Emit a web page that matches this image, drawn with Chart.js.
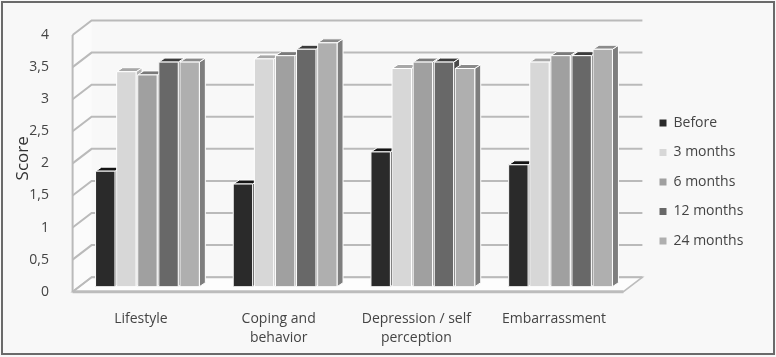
<!DOCTYPE html>
<html><head><meta charset="utf-8">
<script src="https://cdn.jsdelivr.net/npm/chart.js@4.4.1/dist/chart.umd.min.js"></script>
<style>html,body{margin:0;padding:0;background:#fff}#wrap{width:776px;height:357px}</style>
</head><body><div id="wrap"><canvas id="c" width="776" height="357"></canvas></div>
<script>
// ---- data ----
const categories = [['Lifestyle'], ['Coping and', 'behavior'], ['Depression / self', 'perception'], ['Embarrassment']];
const seriesNames = ['Before', '3 months', '6 months', '12 months', '24 months'];
const before   = [1.8, 1.6, 2.1, 1.9];
const months3  = [3.35, 3.55, 3.4, 3.5];
const months6  = [3.3, 3.6, 3.5, 3.6];
const months12 = [3.5, 3.7, 3.5, 3.6];
const months24 = [3.5, 3.8, 3.4, 3.7];
const yTickLabels = ['0', '0,5', '1', '1,5', '2', '2,5', '3', '3,5', '4'];
const axisTitle = 'Score';

// ---- styles ----
const frontColors = ['#2a2a2a', '#d7d7d7', '#a0a0a0', '#686868', '#afafaf'];
const topColors   = ['#141414', '#a8a8a8', '#7a7a7a', '#3c3c3c', '#8b8b8b'];
const sideColors  = ['#1c1c1c', '#b3b3b3', '#808080', '#4a4a4a', '#7e7e7e'];
const FRONT = {dx: -6, dy: 5};
const BACK = {dx: 13, dy: -9.5};
const BAR_D = {dx: 6, dy: -4};
const TEXT = '#444';
const FONT = "'Open Sans', 'DejaVu Sans', sans-serif";

const series = [before, months3, months6, months12, months24];

const scene3d = {
  id: 'scene3d',
  afterLayout(chart) {
    const lg = chart.legend;
    if (lg) { lg.left += 14.6; lg.right += 14.6; lg.top -= 8.75; lg.bottom -= 8.75; }
  },
  beforeDraw(chart) {
    const {ctx, chartArea: a, scales: {y}} = chart;
    const L = a.left, R = a.right;
    const y0 = y.getPixelForValue(0), yT = y.getPixelForValue(4);
    ctx.save();
    ctx.fillStyle = '#f8f8f8';
    ctx.fillRect(0, 0, chart.width, chart.height);
    ctx.strokeStyle = '#6a6a6a'; ctx.lineWidth = 2;
    ctx.strokeRect(2, 2, 772, 352);
    // left wall
    ctx.fillStyle = '#fbfbfb';
    ctx.beginPath();
    ctx.moveTo(L + FRONT.dx, y0 + FRONT.dy);
    ctx.lineTo(L + FRONT.dx, yT + FRONT.dy);
    ctx.lineTo(L + BACK.dx, yT + BACK.dy);
    ctx.lineTo(L + BACK.dx, y0 + BACK.dy);
    ctx.closePath(); ctx.fill();
    // floor
    ctx.fillStyle = '#fdfdfd';
    ctx.beginPath();
    ctx.moveTo(L + FRONT.dx, y0 + FRONT.dy);
    ctx.lineTo(R + FRONT.dx, y0 + FRONT.dy);
    ctx.lineTo(R + BACK.dx, y0 + BACK.dy);
    ctx.lineTo(L + BACK.dx, y0 + BACK.dy);
    ctx.closePath(); ctx.fill();
    ctx.strokeStyle = '#bdbdbd'; ctx.lineWidth = 1.5; ctx.stroke();
    // floor front edge
    ctx.lineWidth = 3; ctx.strokeStyle = '#bcbcbc';
    ctx.beginPath();
    ctx.moveTo(L + FRONT.dx, y0 + FRONT.dy);
    ctx.lineTo(R + FRONT.dx, y0 + FRONT.dy);
    ctx.stroke();
    // gridlines
    ctx.strokeStyle = '#bababa'; ctx.lineWidth = 2;
    y.ticks.forEach(t => {
      const py = y.getPixelForValue(t.value);
      ctx.beginPath();
      ctx.moveTo(L + FRONT.dx, py + FRONT.dy);
      ctx.lineTo(L + BACK.dx, py + BACK.dy);
      ctx.lineTo(R + BACK.dx, py + BACK.dy);
      ctx.stroke();
    });
    // front-left edge
    ctx.beginPath();
    ctx.moveTo(L + FRONT.dx, y0 + FRONT.dy);
    ctx.lineTo(L + FRONT.dx, yT + FRONT.dy);
    ctx.stroke();
    ctx.restore();
  },
  afterDatasetsDraw(chart) {
    const {ctx} = chart;
    const n = chart.data.labels.length;
    const metas = chart.data.datasets.map((d, i) => chart.getDatasetMeta(i));
    ctx.save();
    ctx.strokeStyle = '#ffffff'; ctx.lineWidth = 1; ctx.lineJoin = 'round';
    for (let j = 0; j < n; j++) {
      for (let i = 0; i < metas.length; i++) {
        const el = metas[i].data[j];
        const p = el.getProps(['x', 'y', 'base', 'width'], true);
        const l = p.x - p.width / 2, r = p.x + p.width / 2, t = p.y, b = p.base;
        // side face
        ctx.fillStyle = sideColors[i];
        ctx.beginPath();
        ctx.moveTo(r, t); ctx.lineTo(r + BAR_D.dx, t + BAR_D.dy);
        ctx.lineTo(r + BAR_D.dx, b + BAR_D.dy); ctx.lineTo(r, b);
        ctx.closePath(); ctx.fill(); ctx.stroke();
        // top face
        ctx.fillStyle = topColors[i];
        ctx.beginPath();
        ctx.moveTo(l, t); ctx.lineTo(r, t);
        ctx.lineTo(r + BAR_D.dx, t + BAR_D.dy); ctx.lineTo(l + BAR_D.dx, t + BAR_D.dy);
        ctx.closePath(); ctx.fill(); ctx.stroke();
        // front face
        ctx.fillStyle = frontColors[i];
        ctx.fillRect(l, t, r - l, b - t);
        ctx.strokeRect(l, t, r - l, b - t);
      }
    }
    ctx.restore();
  }
};

new Chart(document.getElementById('c'), {
  type: 'bar',
  data: {
    labels: categories,
    datasets: seriesNames.map((name, i) => ({
      label: name,
      data: series[i],
      backgroundColor: frontColors[i],
      borderWidth: 0,
      categoryPercentage: 0.766,
      barPercentage: 0.92
    }))
  },
  options: {
    responsive: false,
    animation: false,
    devicePixelRatio: 1,
    layout: {padding: {left: 4, top: 29.5, right: 46.6, bottom: 5}},
    plugins: {
      tooltip: {enabled: false},
      legend: {
        position: 'right',
        maxWidth: 100,
        labels: {
          boxWidth: 7, boxHeight: 7, padding: 15.5,
          color: TEXT,
          font: {family: FONT, size: 14},
          generateLabels(chart) {
            return Chart.defaults.plugins.legend.labels.generateLabels(chart).map(it => Object.assign(it, {lineWidth: 0}));
          }
        }
      }
    },
    scales: {
      x: {
        grid: {display: false}, border: {display: false},
        ticks: {color: TEXT, font: {family: FONT, size: 14, lineHeight: 1.33}, padding: 15, labelOffset: -6.5, maxRotation: 0, autoSkip: false},
        afterFit(s) { s.height = 65.3; }
      },
      y: {
        min: 0, max: 4,
        grid: {display: false}, border: {display: false},
        ticks: {stepSize: 0.5, color: TEXT, font: {family: FONT, size: 14}, padding: 21.6, labelOffset: 5,
          callback: (v, idx) => yTickLabels[idx]},
        title: {display: true, text: axisTitle, color: '#333', font: {family: FONT, size: 17}, padding: {top: 8.5, bottom: 0}},
        afterFit(s) { s.width = 74.6; }
      }
    }
  },
  plugins: [scene3d]
});
</script>
</body></html>
